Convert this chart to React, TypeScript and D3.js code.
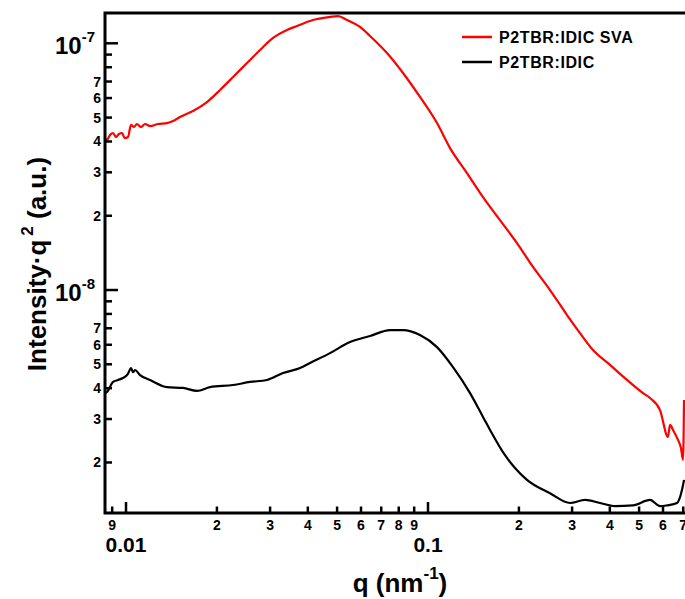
import React, { useEffect, useRef } from "react";
import * as d3 from "d3";

// SAXS profiles (q in nm^-1, Intensity*q^2 in a.u.)
const qSVA = [
  0.00852, 0.00865, 0.00885, 0.00906, 0.00927, 0.00948, 0.0097, 0.0099, 0.01015, 0.01039,
  0.01063, 0.01087, 0.01121, 0.01156, 0.01201, 0.01276, 0.01367, 0.01431, 0.01509, 0.01667,
  0.01854, 0.02048, 0.02262, 0.02515, 0.02778, 0.03068, 0.03413, 0.03684, 0.0416, 0.04737,
  0.05035, 0.05393, 0.05954, 0.06427, 0.07314, 0.08265, 0.09408, 0.1071, 0.1183, 0.1346,
  0.1521, 0.1731, 0.1971, 0.2227, 0.2535, 0.2886, 0.3187, 0.3519, 0.4006, 0.4561,
  0.5152, 0.5434, 0.5865, 0.6233, 0.6329, 0.6476, 0.6727, 0.688, 0.699, 0.7043,
];
const iSVA = [
  4.13e-8, 4.06e-8, 4.25e-8, 4.33e-8, 4.17e-8, 4.29e-8, 4.33e-8, 4.13e-8, 4.17e-8, 4.67e-8,
  4.58e-8, 4.71e-8, 4.58e-8, 4.71e-8, 4.62e-8, 4.71e-8, 4.75e-8, 4.84e-8, 5.03e-8, 5.32e-8,
  5.78e-8, 6.47e-8, 7.3e-8, 8.32e-8, 9.39e-8, 1.051e-7, 1.132e-7, 1.175e-7, 1.243e-7, 1.279e-7,
  1.29e-7, 1.243e-7, 1.165e-7, 1.071e-7, 9.13e-8, 7.58e-8, 6.06e-8, 4.75e-8, 3.76e-8, 2.98e-8,
  2.38e-8, 1.92e-8, 1.55e-8, 1.24e-8, 1.0e-8, 7.92e-9, 6.69e-9, 5.71e-9, 4.97e-9, 4.32e-9,
  3.82e-9, 3.65e-9, 3.26e-9, 2.54e-9, 2.84e-9, 2.71e-9, 2.47e-9, 2.29e-9, 2.05e-9, 3.58e-9,
];

const qPristine = [
  0.00852, 0.00865, 0.00906, 0.00941, 0.00977, 0.01015, 0.01039, 0.01055, 0.01071, 0.01113,
  0.01201, 0.01367, 0.01544, 0.01718, 0.01897, 0.02262, 0.02574, 0.02931, 0.03311, 0.0377,
  0.04067, 0.04737, 0.05518, 0.06427, 0.07484, 0.08265, 0.09408, 0.1071, 0.121, 0.1378,
  0.1521, 0.1605, 0.1799, 0.1941, 0.2127, 0.2535, 0.2953, 0.3311, 0.3712, 0.416,
  0.4774, 0.5434, 0.5865, 0.6186, 0.6676, 0.6936, 0.7043,
];
const iPristine = [
  3.82e-9, 3.86e-9, 4.24e-9, 4.32e-9, 4.4e-9, 4.57e-9, 4.83e-9, 4.65e-9, 4.74e-9, 4.52e-9,
  4.32e-9, 4.04e-9, 4.01e-9, 3.9e-9, 4.04e-9, 4.12e-9, 4.24e-9, 4.32e-9, 4.61e-9, 4.83e-9,
  5.06e-9, 5.55e-9, 6.15e-9, 6.51e-9, 6.88e-9, 6.88e-9, 6.57e-9, 5.87e-9, 4.87e-9, 3.82e-9,
  3.06e-9, 2.71e-9, 2.14e-9, 1.9e-9, 1.7e-9, 1.5e-9, 1.37e-9, 1.41e-9, 1.37e-9, 1.33e-9,
  1.34e-9, 1.41e-9, 1.33e-9, 1.34e-9, 1.37e-9, 1.55e-9, 1.7e-9,
];

const seriesNames = ["P2TBR:IDIC SVA", "P2TBR:IDIC"];
const seriesColors = ["#ff0000", "#000000"];

const xMajorTicks = [0.01, 0.1];
const xMajorLabels = ["0.01", "0.1"];
const xMinorTicks = [
  0.009, 0.02, 0.03, 0.04, 0.05, 0.06, 0.07, 0.08, 0.09, 0.2, 0.3, 0.4, 0.5, 0.6, 0.7,
];
const yMajorTicks = [1e-8, 1e-7];
const yMajorExponents = ["-8", "-7"];
const yMinorTicks = [
  2e-9, 3e-9, 4e-9, 5e-9, 6e-9, 7e-9, 8e-9, 9e-9,
  2e-8, 3e-8, 4e-8, 5e-8, 6e-8, 7e-8, 8e-8, 9e-8,
];
const yLabelledDigits = [2, 3, 4, 5, 6, 7];

const FONT = "'Liberation Sans', Arial, sans-serif";

const leadDigit = (v: number) => Math.round(v / Math.pow(10, Math.floor(Math.log10(v) + 1e-9)));

export default function App() {
  const svgRef = useRef<SVGSVGElement | null>(null);

  useEffect(() => {
    if (!svgRef.current) return;
    const svg = d3.select(svgRef.current);
    svg.selectAll("*").remove();

    const left = 105;
    const top = 13;
    const right = 686;
    const bottom = 513;

    const x = d3.scaleLog().domain([0.00852, 0.715]).range([left, right]);
    const y = d3.scaleLog().domain([1.248e-9, 1.327e-7]).range([bottom, top]);

    const g = svg.append("g").attr("font-family", FONT).attr("font-weight", "bold");

    // curves
    const line = d3
      .line<[number, number]>()
      .x((d) => x(d[0]))
      .y((d) => y(d[1]))
      .curve(d3.curveMonotoneX);

    const series = [
      qSVA.map((q, i) => [q, iSVA[i]] as [number, number]),
      qPristine.map((q, i) => [q, iPristine[i]] as [number, number]),
    ];
    series.forEach((data, k) => {
      g.append("path")
        .datum(data)
        .attr("fill", "none")
        .attr("stroke", seriesColors[k])
        .attr("stroke-width", 2.2)
        .attr("stroke-linejoin", "round")
        .attr("d", line);
    });

    // frame
    g.append("path")
      .attr("d", `M${right},${top}H${left}V${bottom}H${right}`)
      .attr("fill", "none")
      .attr("stroke", "#000")
      .attr("stroke-width", 3);

    // y ticks
    yMajorTicks.forEach((v, i) => {
      const yy = y(v);
      g.append("line")
        .attr("x1", left).attr("x2", left + 13)
        .attr("y1", yy).attr("y2", yy)
        .attr("stroke", "#000").attr("stroke-width", 2.5);
      const t = g.append("text")
        .attr("x", 95)
        .attr("y", yy + 11)
        .attr("text-anchor", "end")
        .attr("font-size", 24);
      t.append("tspan").text("10");
      t.append("tspan").attr("font-size", 15).attr("dy", -12).text(yMajorExponents[i]);
    });
    yMinorTicks.forEach((v) => {
      const yy = y(v);
      g.append("line")
        .attr("x1", left).attr("x2", left + 7)
        .attr("y1", yy).attr("y2", yy)
        .attr("stroke", "#000").attr("stroke-width", 2.5);
      const d = leadDigit(v);
      if (yLabelledDigits.includes(d)) {
        g.append("text")
          .attr("x", 101)
          .attr("y", yy + 5)
          .attr("text-anchor", "end")
          .attr("font-size", 14)
          .text(d);
      }
    });

    // x ticks
    xMajorTicks.forEach((v, i) => {
      const xx = x(v);
      g.append("line")
        .attr("x1", xx).attr("x2", xx)
        .attr("y1", bottom).attr("y2", bottom - 11)
        .attr("stroke", "#000").attr("stroke-width", 2.5);
      g.append("text")
        .attr("x", xx)
        .attr("y", 552)
        .attr("text-anchor", "middle")
        .attr("font-size", 21)
        .text(xMajorLabels[i]);
    });
    xMinorTicks.forEach((v) => {
      const xx = x(v);
      g.append("line")
        .attr("x1", xx).attr("x2", xx)
        .attr("y1", bottom).attr("y2", bottom - 6.5)
        .attr("stroke", "#000").attr("stroke-width", 2.5);
      g.append("text")
        .attr("x", xx)
        .attr("y", 530)
        .attr("text-anchor", "middle")
        .attr("font-size", 14)
        .text(leadDigit(v));
    });

    // axis titles
    const yt = g.append("text")
      .attr("transform", "translate(46,264) rotate(-90)")
      .attr("text-anchor", "middle")
      .attr("font-size", 26);
    yt.append("tspan").text("Intensity·q");
    yt.append("tspan").attr("font-size", 17).attr("dx", 4).attr("dy", -13).text("2");
    yt.append("tspan").attr("dy", 13).text(" (a.u.)");

    const xt = g.append("text")
      .attr("x", 400)
      .attr("y", 592)
      .attr("text-anchor", "middle")
      .attr("font-size", 26);
    xt.append("tspan").text("q (nm");
    xt.append("tspan").attr("font-size", 17).attr("dy", -13).text("-1");
    xt.append("tspan").attr("dy", 13).text(")");

    // legend
    seriesNames.forEach((name, k) => {
      const ly = 37 + k * 25;
      g.append("line")
        .attr("x1", 462).attr("x2", 492)
        .attr("y1", ly).attr("y2", ly)
        .attr("stroke", seriesColors[k]).attr("stroke-width", 2.5);
      g.append("text")
        .attr("x", 499)
        .attr("y", ly + 5.5)
        .attr("font-size", 16)
        .attr("letter-spacing", 0.6)
        .text(name);
    });
  }, []);

  return (
    <svg
      ref={svgRef}
      width={685}
      height={599}
      style={{ position: "absolute", left: 0, top: 0, background: "#fff" }}
    />
  );
}
